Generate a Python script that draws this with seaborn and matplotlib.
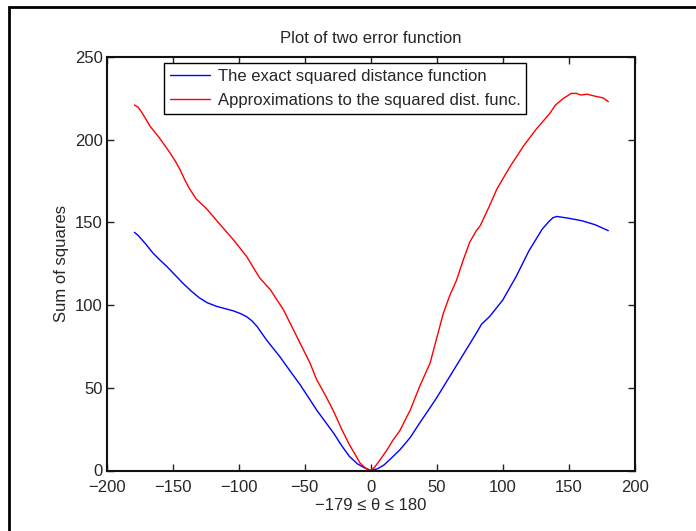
import matplotlib
matplotlib.use("Agg")
import matplotlib.pyplot as plt
import seaborn as sns
import pandas as pd
from matplotlib.patches import Rectangle

sns.set_style("ticks")
plt.rcParams['font.family'] = ['Liberation Sans', 'DejaVu Sans']

exact_x = [-179, -176, -170, -165, -160, -154.5, -148, -142, -136, -130, -124, -117,
           -110, -104, -99, -94, -90, -86, -79, -69,
           -60, -53.6, -47, -41, -34, -28, -22, -16, -10, -4, 0,
           5, 10, 15, 22, 30, 37, 45, 50, 60, 70, 80, 84, 90, 100, 110, 120, 130,
           135, 138, 141, 150, 160, 170, 180]
exact_y = [144, 142, 136.5, 131.5, 127.5, 123.4, 118, 113, 108.5, 104.5, 101.5, 99.3,
           97.8, 96.5, 95, 93, 90.5, 87, 79, 69,
           59, 52, 44, 36.6, 29, 22.5, 15, 8.4, 4, 1.3, 0,
           1, 3.3, 7, 12.4, 20, 28.6, 38, 44, 57, 70, 83, 88.5, 93, 103, 117, 133, 146,
           150.5, 152.8, 153.6, 152.5, 151, 148.6, 145]

approx_x = [-179, -176, -173, -167, -160, -152, -148, -144.5, -141, -137, -132, -124, -114,
            -104, -94, -84, -76, -66, -56, -46, -41, -34, -28, -22, -16, -12, -8, -4, 0,
            3, 7, 12, 17, 22, 30, 37, 45, 50, 55, 60, 65, 70, 75, 80, 83, 90, 95.5,
            105, 115.6, 125, 135.8, 140, 146, 152, 156, 159, 164, 170, 176, 180]
approx_y = [221, 219.5, 216, 208, 201, 192, 187, 182, 176, 170, 164, 158, 148.6,
            139.5, 129.4, 116.3, 109.3, 97, 81, 65, 55, 45, 35.6, 25, 15.4, 10, 4.4, 1.5, 0,
            2, 6.4, 12, 18.5, 24, 36.6, 50.7, 65, 80, 95, 106, 115, 127, 138, 145, 148, 160, 170,
            183, 196, 206, 216, 221, 225, 228, 228, 227, 227.5, 226.3, 225.3, 223]

labels = ["The exact squared distance function",
          "Approximations to the squared dist. func."]

df = pd.concat([
    pd.DataFrame({"theta": exact_x, "value": exact_y, "series": labels[0]}),
    pd.DataFrame({"theta": approx_x, "value": approx_y, "series": labels[1]}),
])

fig = plt.figure(figsize=(6.96, 5.31), dpi=100)
ax = fig.add_axes([106.7/696, 1-470.5/531, 528/696, 413.5/531])

sns.lineplot(data=df, x="theta", y="value", hue="series",
             palette={labels[0]: "#0000ff", labels[1]: "#ff0000"},
             linewidth=1.0, ax=ax, sort=True, estimator=None)

ax.set_xlim(-200, 200)
ax.set_ylim(0, 250)
ax.set_xticks(range(-200, 201, 50))
ax.set_yticks(range(0, 251, 50))
ax.tick_params(direction='in', length=5, width=1, top=True, right=True,
               labelsize=12, color='#222222')
ax.tick_params(axis='x', pad=7)
ax.tick_params(axis='y', pad=3)
for s in ax.spines.values():
    s.set_linewidth(1.5)
    s.set_color('#111111')
ax.set_title("Plot of two error function", fontsize=12, pad=10)
ax.set_xlabel("\u2212179 \u2264 \u03b8 \u2264 180", fontsize=12, labelpad=2)
ax.set_ylabel("Sum of squares", fontsize=12, labelpad=4)

leg = ax.legend(loc='upper left', bbox_to_anchor=(0.109, 0.985), fontsize=12,
                frameon=True, fancybox=False, edgecolor='black', framealpha=1,
                handlelength=2.4, handletextpad=0.45, borderpad=0.35,
                labelspacing=0.55, borderaxespad=0)
leg.get_frame().set_linewidth(1.0)
for h in leg.get_lines():
    h.set_linewidth(1.0)

fig.patches.append(Rectangle((9/696, -0.1), 1.2, 1.1 - 7/531, transform=fig.transFigure,
                             fill=False, edgecolor='black', linewidth=2.0))

fig.savefig("out.png", dpi=100)
